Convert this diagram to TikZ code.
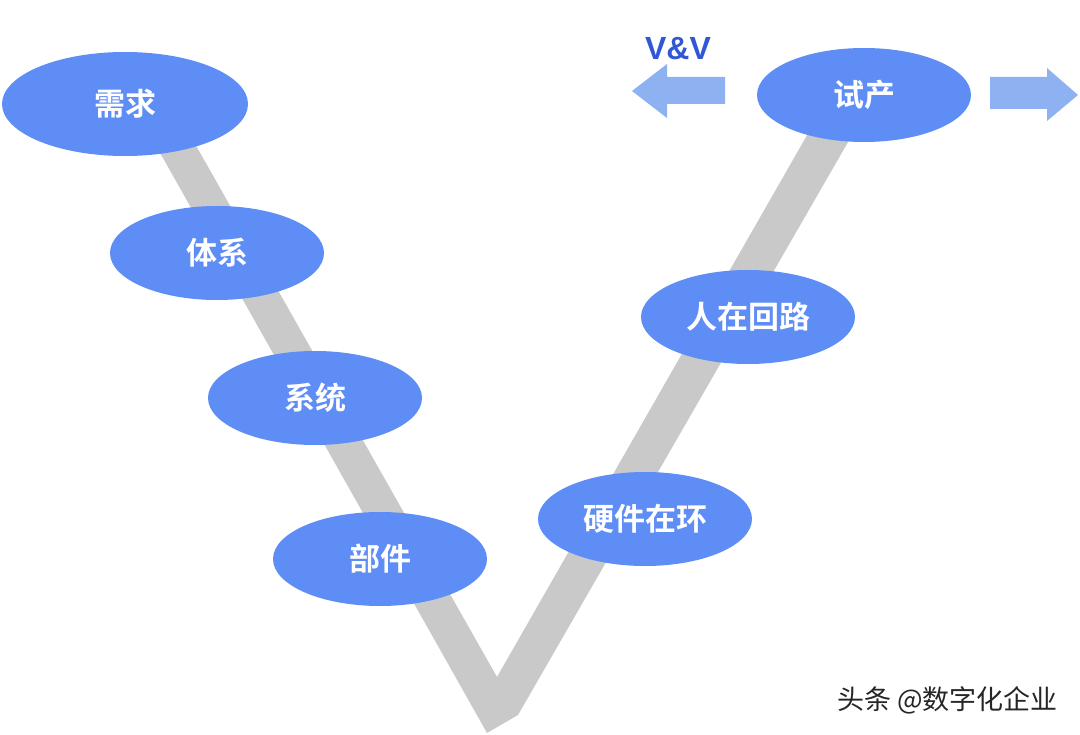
\documentclass[tikz,border=0pt]{standalone}
\usepackage{fontspec}
\newfontfamily\cjk{Noto Sans CJK SC}
\newfontfamily\cjkbold{Noto Sans CJK SC Bold}
\newfontfamily\lat{Liberation Sans}
\usetikzlibrary{shapes.geometric}
\definecolor{blobblue}{HTML}{5E8DF6}
\definecolor{bandgray}{HTML}{C9C9C9}
\definecolor{arrowblue}{HTML}{8DB1F1}
\definecolor{vvblue}{HTML}{2F57D6}
\tikzset{
  blob/.style={ellipse, fill=blobblue, draw=none, inner sep=0pt,
    minimum width=214pt, minimum height=94pt,
    text=white, font=\cjkbold\fontsize{31}{34}\selectfont},
  band/.style={fill=bandgray, draw=none},
  bigarrow/.style={fill=arrowblue, draw=none}
}
\begin{document}
\begin{tikzpicture}[x=1pt,y=-1pt]
\useasboundingbox (0,0) rectangle (1080,735);
\fill[white] (0,0) rectangle (1080,735);
% V band
\fill[band] (150,135) -- (487,733) -- (518,715) -- (855,130) -- (810,130)
  -- (497,677) -- (190,135) -- cycle;
% ellipses
\node[blob, minimum width=246pt, minimum height=104pt] (req) at (125,104) {需求};
\node[blob] (arch) at (217,253) {体系};
\node[blob] (sys) at (315,398) {系统};
\node[blob] (comp) at (380,559) {部件};
\node[blob] (hil) at (645,519) {硬件在环};
\node[blob] (mil) at (748,317) {人在回路};
\node[blob] (pilot) at (864,95) {试产};
% arrows
\fill[bigarrow] (725,77) -- (667,77) -- (667,64) -- (632,91) -- (667,118)
  -- (667,104) -- (725,104) -- cycle;
\fill[bigarrow] (990,77) -- (1047,77) -- (1047,68) -- (1078,95) -- (1047,121)
  -- (1047,109) -- (990,109) -- cycle;
\node[text=vvblue, font=\lat\bfseries\fontsize{32}{36}\selectfont, inner sep=0pt]
  (vv) at (678,49) {V\&V};
\node[text=black!85, font=\cjk\fontsize{27}{31}\selectfont, inner sep=0pt, anchor=east]
  (wm) at (1058,700) {头条 @数字化企业};
\end{tikzpicture}
\end{document}
